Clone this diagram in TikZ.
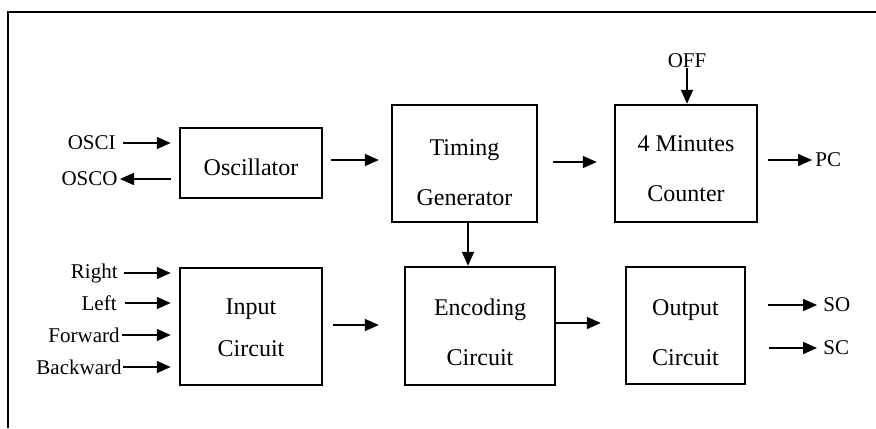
\documentclass[tikz,border=0pt]{standalone}
\usepackage{fontspec}
\setmainfont{Liberation Serif}
\usetikzlibrary{arrows.meta}

% strut that lowers the text block inside a box
\newcommand\lowerby[1]{\rule{0pt}{#1}}

\begin{document}
\begin{tikzpicture}[x=0.5pt,y=-0.5pt,
  blk/.style={draw, line width=1.2pt, align=center, inner sep=0pt,
    font=\fontsize{12}{14.4}\selectfont},
  sig/.style={inner sep=0pt, font=\fontsize{10.5}{12}\selectfont},
  arr/.style={line width=0.8pt, -{Triangle[length=7pt,width=6pt]}},
  frm/.style={line width=1pt}]

\useasboundingbox (0,0) rectangle (876,428);

% frame (top and left edges)
\coordinate (ftl) at (8,12);
\coordinate (ftr) at (876,12);
\coordinate (fbl) at (8,428);
\draw[frm] (fbl) -- (ftl) -- (ftr);

% blocks
\node[blk, minimum width=71pt, minimum height=35pt] (osc) at (251,163) {\lowerby{12.2pt}Oscillator};
\node[blk, minimum width=72.5pt, minimum height=58.5pt] (tg) at (464.5,163.5) {\lowerby{17.2pt}Timing\\[10.6pt]Generator};
\node[blk, minimum width=71pt, minimum height=58.5pt] (cnt) at (686,163.5) {\lowerby{13.2pt}4 Minutes\\[10.6pt]Counter};
\node[blk, minimum width=71pt, minimum height=58.5pt] (inp) at (251,326.5) {\lowerby{9.4pt}Input\\[6.4pt]Circuit};
\node[blk, minimum width=75pt, minimum height=59pt] (enc) at (480,326) {\lowerby{14.2pt}Encoding\\[10.6pt]Circuit};
\node[blk, minimum width=59.5pt, minimum height=58.5pt] (outp) at (685.5,325.5) {\lowerby{15.2pt}Output\\[10.6pt]Circuit};

% external signals
\node[sig, anchor=east] (osci) at (116,143) {OSCI};
\node[sig, anchor=east] (osco) at (118,179) {OSCO};
\node[sig, anchor=east] (right) at (118,273) {Right};
\node[sig, anchor=east] (left) at (117,303) {Left};
\node[sig, anchor=east] (fwd) at (120,335) {Forward};
\node[sig, anchor=east] (bwd) at (122,367) {Backward};
\node[sig, anchor=south] (off) at (687,68) {OFF};
\node[sig, anchor=west] (pc) at (815,160) {PC};
\node[sig, anchor=west] (so) at (823,305) {SO};
\node[sig, anchor=west] (sc) at (823,348) {SC};

% oscillator I/O
\draw[arr, shorten <=3.5pt, shorten >=4pt] (osci.east) -- (osci.east -| osc.west);
\draw[arr, shorten <=4pt, shorten >=1pt] (osco.east -| osc.west) -- (osco.east);

% direction inputs
\draw[arr, shorten <=3pt, shorten >=4pt] (right.east) -- (right.east -| inp.west);
\draw[arr, shorten <=4pt, shorten >=4pt] (left.east) -- (left.east -| inp.west);
\draw[arr, shorten <=1pt, shorten >=4pt] (fwd.east) -- (fwd.east -| inp.west);
\draw[arr, shorten <=0.5pt, shorten >=4pt] (bwd.east) -- (bwd.east -| inp.west);

% block-to-block connections
\draw[arr, shorten <=4pt, shorten >=6pt] ([yshift=1.5pt]osc.east) -- ([yshift=1.5pt]osc.east -| tg.west);
\draw[arr, shorten <=7.5pt, shorten >=8.5pt] ([yshift=0.75pt]tg.east) -- ([yshift=0.75pt]tg.east -| cnt.west);
\draw[arr] ([xshift=1.75pt]tg.south) -- ([xshift=1.75pt]tg.south |- enc.north);
\draw[arr, shorten <=5pt, shorten >=12.5pt] ([yshift=0.75pt]inp.east) -- ([yshift=0.75pt]inp.east -| enc.west);
\draw[arr, shorten >=12pt] ([yshift=1.5pt]enc.east) -- ([yshift=1.5pt]enc.east -| outp.west);

% control and outputs
\draw[arr] (off.south) -- (off.south |- cnt.north);
\draw[arr, shorten <=5pt, shorten >=1.5pt] (cnt.east |- pc.west) -- (pc.west);
\draw[arr, shorten <=11pt, shorten >=3pt] (outp.east |- so.west) -- (so.west);
\draw[arr, shorten <=11.5pt, shorten >=3pt] (outp.east |- sc.west) -- (sc.west);

\end{tikzpicture}
\end{document}
